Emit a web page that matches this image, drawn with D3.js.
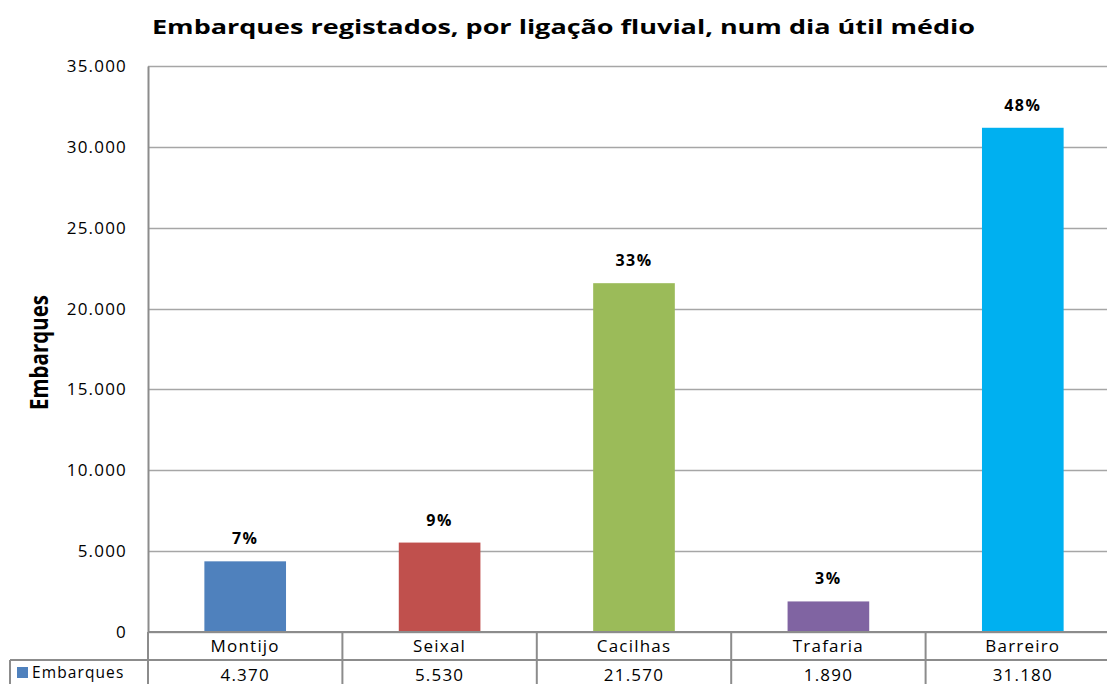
<!DOCTYPE html>
<html>
<head>
<meta charset="utf-8">
<script src="https://cdn.jsdelivr.net/npm/d3@7"></script>
<style>
  body { margin: 0; background: #fff; }
  svg { display: block; font-family: "Open Sans", "DejaVu Sans", sans-serif; }
</style>
</head>
<body>
<div class="chart"></div>
<script>
var categories = ["Montijo", "Seixal", "Cacilhas", "Trafaria", "Barreiro"];
var embarques = [4370, 5530, 21570, 1890, 31180];
var colors = ["#4F81BD", "#C0504D", "#9BBB59", "#8064A2", "#00B0F0"];
var yTicks = [0, 5000, 10000, 15000, 20000, 25000, 30000, 35000];

var width = 1107, height = 684;
var margin = { top: 66, left: 148, bottom: 52 };
var plotW = 972;
var plotH = height - margin.top - margin.bottom;

var fmt = d3.formatLocale({ decimal: ",", thousands: ".", grouping: [3], currency: ["", "€"] }).format(",d");
var total = d3.sum(embarques);

var svg = d3.select(".chart").append("svg")
  .attr("width", width)
  .attr("height", height);

var x = d3.scaleBand()
  .domain(categories)
  .range([margin.left, margin.left + plotW])
  .paddingInner(0.58)
  .paddingOuter(0.29);

var y = d3.scaleLinear()
  .domain([0, 35000])
  .range([margin.top + plotH, margin.top]);

// title
svg.append("text")
  .attr("x", 152)
  .attr("y", 34)
  .attr("font-size", 19.5)
  .attr("font-weight", "bold")
  .attr("textLength", 823)
  .attr("lengthAdjust", "spacingAndGlyphs")
  .text("Embarques registados, por ligação fluvial, num dia útil médio");

// gridlines
svg.append("g")
  .selectAll("line")
  .data(yTicks)
  .enter().append("line")
  .attr("x1", margin.left)
  .attr("x2", margin.left + plotW)
  .attr("y1", d => Math.round(y(d)) + 0.5)
  .attr("y2", d => Math.round(y(d)) + 0.5)
  .attr("stroke", "#a6a6a6")
  .attr("stroke-width", 1.5);

// y axis
var yAxis = d3.axisLeft(y)
  .tickValues(yTicks)
  .tickSize(0)
  .tickPadding(21)
  .tickFormat(fmt);
var gy = svg.append("g")
  .attr("transform", `translate(${margin.left}, 0)`)
  .call(yAxis);
gy.select(".domain").attr("stroke", "#8c8c8c").attr("stroke-width", 2);
gy.selectAll("text")
  .attr("font-size", 17)
  .attr("letter-spacing", 1.2)
  .attr("fill", "#000")
  .attr("font-family", "Open Sans");

svg.append("text")
  .attr("transform", "translate(48, 410) rotate(-90)")
  .attr("font-weight", "bold")
  .attr("font-size", 25)
  .attr("textLength", 115)
  .attr("lengthAdjust", "spacingAndGlyphs")
  .text("Embarques");

// bars
svg.append("g")
  .selectAll("rect")
  .data(embarques)
  .enter().append("rect")
  .attr("x", (d, i) => x(categories[i]))
  .attr("y", d => y(d))
  .attr("width", x.bandwidth())
  .attr("height", d => y(0) - y(d))
  .attr("fill", (d, i) => colors[i]);

// percent labels
svg.append("g")
  .selectAll("text")
  .data(embarques)
  .enter().append("text")
  .attr("x", (d, i) => x(categories[i]) + x.bandwidth() / 2)
  .attr("y", d => y(d) - 17)
  .attr("text-anchor", "middle")
  .attr("font-size", 16)
  .attr("letter-spacing", 1.5)
  .attr("font-weight", "bold")
  .text(d => Math.round(d / total * 100) + "%");

// data table
var row1 = y(0), row2 = row1 + 28, rowEnd = height + 2;
var step = x.step();
var table = svg.append("g").attr("stroke", "#8c8c8c").attr("stroke-width", 2);
table.append("line")
  .attr("x1", margin.left).attr("x2", margin.left + plotW)
  .attr("y1", row1).attr("y2", row1);
table.append("line")
  .attr("x1", 10).attr("x2", margin.left + plotW)
  .attr("y1", row2).attr("y2", row2);
table.append("line")
  .attr("x1", 10).attr("x2", 10)
  .attr("y1", row2).attr("y2", rowEnd);
table.selectAll(".col")
  .data(d3.range(categories.length + 1))
  .enter().append("line")
  .attr("class", "col")
  .attr("x1", i => margin.left + i * step)
  .attr("x2", i => margin.left + i * step)
  .attr("y1", row1).attr("y2", rowEnd);

svg.append("g")
  .selectAll("text")
  .data(categories)
  .enter().append("text")
  .attr("x", d => x(d) + x.bandwidth() / 2)
  .attr("y", row1 + 20)
  .attr("text-anchor", "middle")
  .attr("font-size", 17)
  .attr("letter-spacing", 1.2)
  .text(d => d);

svg.append("g")
  .selectAll("text")
  .data(embarques)
  .enter().append("text")
  .attr("x", (d, i) => x(categories[i]) + x.bandwidth() / 2)
  .attr("y", row2 + 21)
  .attr("text-anchor", "middle")
  .attr("font-size", 17)
  .attr("letter-spacing", 1.2)
  .text(d => fmt(d));

svg.append("rect")
  .attr("x", 17).attr("y", row2 + 7)
  .attr("width", 11).attr("height", 11)
  .attr("fill", colors[0]);
svg.append("text")
  .attr("x", 32).attr("y", row2 + 18)
  .attr("font-size", 15.5)
  .attr("letter-spacing", 1.1)
  .text("Embarques");
</script>
</body>
</html>
